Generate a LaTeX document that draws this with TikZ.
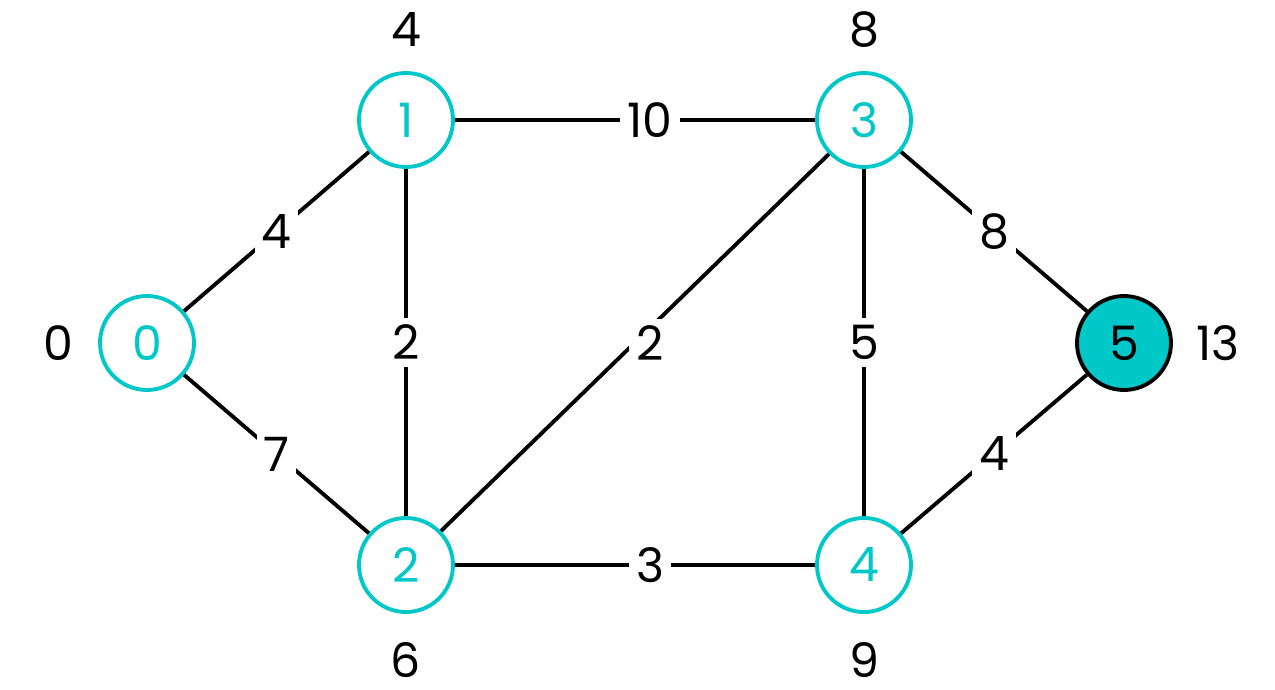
\documentclass[tikz,border=0pt]{standalone}
\usepackage{fontspec}
\setmainfont{Poppins}
\definecolor{teal}{HTML}{00C8C8}
\begin{document}
\begin{tikzpicture}[
  vert/.style={circle, draw=teal, line width=1.1pt, fill=white, minimum size=0.94cm, inner sep=0pt, text=teal, font=\fontsize{13.5}{16}\selectfont},
  goal/.style={circle, draw=black, line width=1.1pt, fill=teal, minimum size=0.94cm, inner sep=0pt, text=black, font=\fontsize{13.5}{16}\selectfont},
  edge/.style={line width=1.1pt, draw=black},
  wlab/.style={fill=white, inner sep=2pt, font=\fontsize{13.5}{16}\selectfont},
  dist/.style={font=\fontsize{13.5}{16}\selectfont}
]
\useasboundingbox (0,0) rectangle (12.75,6.89);
\node[vert] (n0) at (1.47,3.46) {0};
\node[vert] (n1) at (4.06,5.69) {1};
\node[vert] (n2) at (4.06,1.24) {2};
\node[vert] (n3) at (8.64,5.69) {3};
\node[vert] (n4) at (8.64,1.24) {4};
\node[goal] (n5) at (11.24,3.46) {5};

\draw[edge] (n0) -- node[wlab] (w01) {4} (n1);
\draw[edge] (n0) -- node[wlab] (w02) {7} (n2);
\draw[edge] (n1) -- node[wlab] (w12) {2} (n2);
\draw[edge] (n1) -- (n3);
\node[wlab] (w13) at (6.50,5.69) {10};
\draw[edge] (n2) -- (n3);
\node[wlab] (w23) at (6.50,3.46) {2};
\draw[edge] (n2) -- (n4);
\node[wlab] (w24) at (6.50,1.24) {3};
\draw[edge] (n3) -- node[wlab] (w34) {5} (n4);
\draw[edge] (n3) -- node[wlab] (w35) {8} (n5);
\draw[edge] (n4) -- node[wlab] (w45) {4} (n5);

\node[dist] (d0) at (0.58,3.46) {0};
\node[dist] (d1) at (4.06,6.59) {4};
\node[dist] (d3) at (8.64,6.59) {8};
\node[dist] (d5) at (12.18,3.46) {13};
\node[dist] (d2) at (4.06,0.29) {6};
\node[dist] (d4) at (8.64,0.29) {9};
\end{tikzpicture}
\end{document}
